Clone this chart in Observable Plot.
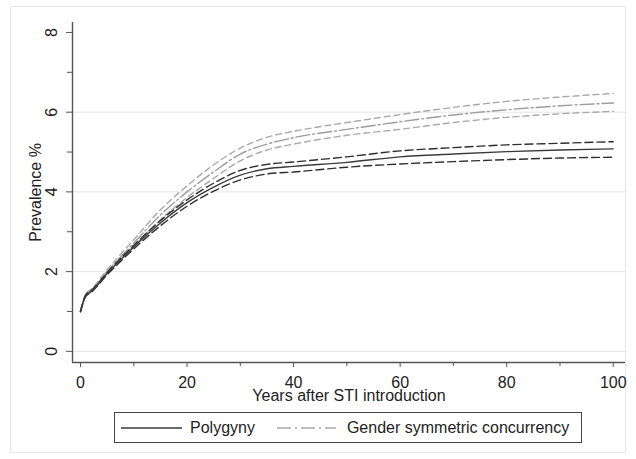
<!DOCTYPE html>
<html>
<head>
<meta charset="utf-8">
<script src="https://cdn.jsdelivr.net/npm/d3@7"></script>
<script src="https://cdn.jsdelivr.net/npm/@observablehq/plot@0.6"></script>
<style>
  html, body { margin: 0; padding: 0; background: #fff; }
  body { width: 636px; height: 459px; position: relative; overflow: hidden; font-family: "Liberation Sans", Arial, sans-serif; }
  #border { position: absolute; left: 10px; top: 6px; width: 616px; height: 447px; border: 1px solid #e6e6e6; box-sizing: border-box; }
  #chart { position: absolute; left: 0; top: 0; }
  #legend { position: absolute; left: 114px; top: 412px; width: 468px; height: 31px; border: 1.5px solid #444; box-sizing: border-box;
            display: flex; align-items: center; font-size: 16px; color: #222; }
  #legend svg { display: block; }
</style>
</head>
<body>
<div id="border"></div>
<div id="chart"></div>
<div id="legend"></div>
<script>
// ---- data ----
const years      = [0, 1, 2, 5, 10, 15, 20, 25, 30, 35, 40, 50, 60, 70, 80, 90, 100];
const polyMean   = [1.0, 1.40, 1.50, 1.95, 2.62, 3.22, 3.73, 4.12, 4.42, 4.58, 4.64, 4.74, 4.88, 4.95, 5.01, 5.05, 5.08];
const polyUpper  = [1.0, 1.42, 1.52, 1.98, 2.66, 3.28, 3.80, 4.22, 4.54, 4.69, 4.75, 4.88, 5.03, 5.11, 5.18, 5.22, 5.26];
const polyLower  = [1.0, 1.38, 1.48, 1.92, 2.57, 3.15, 3.64, 4.02, 4.30, 4.45, 4.50, 4.62, 4.70, 4.76, 4.81, 4.85, 4.87];
const gscMean    = [1.0, 1.42, 1.53, 2.00, 2.72, 3.42, 4.00, 4.50, 4.95, 5.20, 5.36, 5.57, 5.76, 5.93, 6.06, 6.16, 6.23];
const gscUpper   = [1.0, 1.44, 1.56, 2.05, 2.80, 3.55, 4.15, 4.68, 5.10, 5.37, 5.52, 5.74, 5.94, 6.12, 6.27, 6.38, 6.47];
const gscLower   = [1.0, 1.40, 1.50, 1.96, 2.64, 3.30, 3.86, 4.34, 4.78, 5.05, 5.20, 5.42, 5.57, 5.74, 5.87, 5.96, 6.02];

const xTicks     = [0, 20, 40, 60, 80, 100];
const xMinor     = [10, 30, 50, 70, 90];
const yTicks     = [0, 2, 4, 6, 8];
const yMinor     = [1, 3, 5, 7];
const gridLines  = [0, 2, 4, 6];
const xDomain    = [-1.5, 102.3];
const yDomain    = [-0.28, 8.25];
const xTitle     = "Years after STI introduction";
const yTitle     = "Prevalence %";
const seriesNames = ["Polygyny", "Gender symmetric concurrency"];

const rows = vals => years.map((t, i) => ({year: t, value: vals[i]}));

const dark = "#2e2e2e", light = "#a9a9a9";
const lineOpts = (stroke, dash) => ({x: "year", y: "value", stroke, strokeWidth: 1.4, strokeDasharray: dash, curve: "monotone-x"});

const plot = Plot.plot({
  width: 636,
  height: 408,
  marginLeft: 72,
  marginRight: 11,
  marginTop: 22,
  marginBottom: 46,
  style: {fontFamily: "'Liberation Sans', Arial, sans-serif", fontSize: "16px", background: "transparent", overflow: "visible"},
  x: {domain: xDomain, axis: null},
  y: {domain: yDomain, axis: null},
  marks: [
    Plot.ruleY(gridLines, {stroke: "#e4e4e4", strokeWidth: 1}),
    Plot.line(rows(gscUpper), lineOpts(light, "6,4")),
    Plot.line(rows(gscLower), lineOpts(light, "6,4")),
    Plot.line(rows(gscMean),  lineOpts("#9c9c9c", "14,3,2,3")),
    Plot.line(rows(polyUpper), lineOpts(dark, "8,4")),
    Plot.line(rows(polyLower), lineOpts(dark, "8,4")),
    Plot.line(rows(polyMean),  lineOpts("#3a3a3a", null)),
    // axis lines
    Plot.ruleX([xDomain[0]], {stroke: "#555", strokeWidth: 1.4}),
    Plot.ruleY([yDomain[0]], {stroke: "#555", strokeWidth: 1.4}),
    // x axis
    Plot.axisX(xTicks, {anchor: "bottom", label: null, tickSize: 5, tickPadding: 9, fontSize: 16, stroke: "#555", fill: "#222"}),
    Plot.axisX(xMinor, {anchor: "bottom", label: null, tickSize: 4, tickFormat: () => "", stroke: "#555"}),
    // y axis
    Plot.axisY(yTicks, {anchor: "left", label: null, tickSize: 6, tickFormat: () => "", stroke: "#555"}),
    Plot.axisY(yMinor, {anchor: "left", label: null, tickSize: 5, tickFormat: () => "", stroke: "#555"}),
    Plot.text(yTicks, {y: d => d, frameAnchor: "left", dx: -21, rotate: -90, textAnchor: "middle", lineAnchor: "middle",
                       text: d => String(d), fontSize: 16, fill: "#222"}),
    // titles
    Plot.text([yTitle], {frameAnchor: "left", dx: -37, rotate: -90, textAnchor: "middle", lineAnchor: "middle", fontSize: 16, fill: "#222"}),
    Plot.text([xTitle], {frameAnchor: "bottom", dy: 33, textAnchor: "middle", lineAnchor: "middle", fontSize: 16, fill: "#222"})
  ]
});
document.getElementById("chart").appendChild(plot);

// ---- legend ----
const legend = d3.select("#legend");
function sample(stroke, dash, widthPx) {
  const s = legend.append("svg").attr("width", widthPx).attr("height", 10);
  s.append("line").attr("x1", 0).attr("x2", widthPx).attr("y1", 5).attr("y2", 5)
    .attr("stroke", stroke).attr("stroke-width", 1.4).attr("stroke-dasharray", dash);
  return s;
}
sample("#3a3a3a", null, 61).style("margin-left", "6px");
legend.append("span").text(seriesNames[0]).style("margin-left", "8px");
sample("#a9a9a9", "14,4,2,4", 59).style("margin-left", "22px");
legend.append("span").text(seriesNames[1]).style("margin-left", "11px");
</script>
</body>
</html>
